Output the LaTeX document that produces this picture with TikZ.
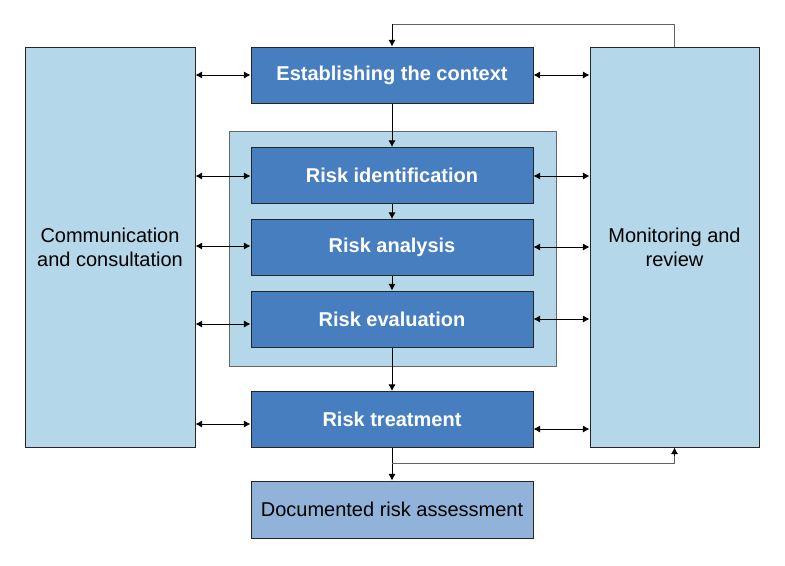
\documentclass[tikz,border=0pt]{standalone}
\usepackage{fontspec}
\setmainfont{Liberation Sans}
\usetikzlibrary{arrows.meta}
\definecolor{darkb}{RGB}{70,126,192}
\definecolor{lightb}{RGB}{180,216,234}
\definecolor{docb}{RGB}{145,179,218}
\definecolor{loopgray}{RGB}{100,100,100}
\tikzset{
  stepbox/.style={draw=black!85, line width=0.75pt, fill=darkb, text=white,
    font=\fontsize{15}{18}\selectfont\bfseries, minimum width=282*0.75pt,
    minimum height=56*0.75pt, inner sep=0pt},
  sidebox/.style={draw=black!85, line width=0.75pt, fill=lightb,
    font=\fontsize{15}{18}\selectfont, align=center, inner sep=0pt},
  docbox/.style={draw=black!85, line width=0.75pt, fill=docb,
    font=\fontsize{15}{18}\selectfont, minimum width=282*0.75pt,
    minimum height=57*0.75pt, inner sep=0pt},
  frame/.style={draw=black!60, line width=0.75pt, fill=lightb},
  tip/.style={line width=0.75pt, -{Latex[length=5pt,width=5.5pt]}},
  dbl/.style={line width=0.75pt, {Latex[length=5pt,width=5.5pt]}-{Latex[length=5pt,width=5.5pt]}},
  loopline/.style={line width=0.75pt, draw=loopgray},
}
\begin{document}
\begin{tikzpicture}[x=0.75pt,y=-0.75pt]
\useasboundingbox (0,0) rectangle (785,565);
% side boxes
\node[sidebox, minimum width=170*0.75pt, minimum height=400*0.75pt] (L) at (110,247) {Communication\\and consultation};
\node[sidebox, minimum width=169*0.75pt, minimum height=400*0.75pt] (R) at (674.5,247) {Monitoring and\\review};
% frame
\node[frame, minimum width=327*0.75pt, minimum height=235*0.75pt, inner sep=0pt] (F) at (392.5,248.5) {};
% steps
\node[stepbox] (est) at (392,75) {Establishing the context};
\node[stepbox] (ide) at (392,175.5) {Risk identification};
\node[stepbox] (ana) at (392,247.5) {Risk analysis};
\node[stepbox] (eva) at (392,319) {Risk evaluation};
\node[stepbox] (tre) at (392,419.5) {Risk treatment};
\node[docbox] (doc) at (392,509.5) {Documented risk assessment};
% vertical arrows
\draw[tip] (est.south) -- (ide.north);
\draw[tip] (ide.south) -- (ana.north);
\draw[tip] (ana.south) -- (eva.north);
\draw[tip] (eva.south) -- (tre.north);
\draw[tip] (tre.south) -- (doc.north);
% left double arrows
\draw[dbl] (L.east |- 0,75) -- (est.west |- 0,75);
\draw[dbl] (L.east |- 0,176) -- (ide.west |- 0,176);
\draw[dbl] (L.east |- 0,246) -- (ana.west |- 0,246);
\draw[dbl] (L.east |- 0,324) -- (eva.west |- 0,324);
\draw[dbl] (L.east |- 0,424) -- (tre.west |- 0,424);
% right double arrows
\draw[dbl] (est.east |- 0,75) -- (R.west |- 0,75);
\draw[dbl] (ide.east |- 0,176) -- (R.west |- 0,176);
\draw[dbl] (ana.east |- 0,247) -- (R.west |- 0,247);
\draw[dbl] (eva.east |- 0,319) -- (R.west |- 0,319);
\draw[dbl] (tre.east |- 0,429) -- (R.west |- 0,429);
% loops
\draw[loopline] (R.north) -- (R.north |- 0,24) -- (est.north |- 0,24);
\draw[tip, draw=black] (est.north |- 0,24) -- (est.north);
\draw[loopline] (tre.south |- 0,463) -| (R.south |- 0,452);
\draw[tip] (R.south |- 0,456) -- (R.south);
\end{tikzpicture}
\end{document}
